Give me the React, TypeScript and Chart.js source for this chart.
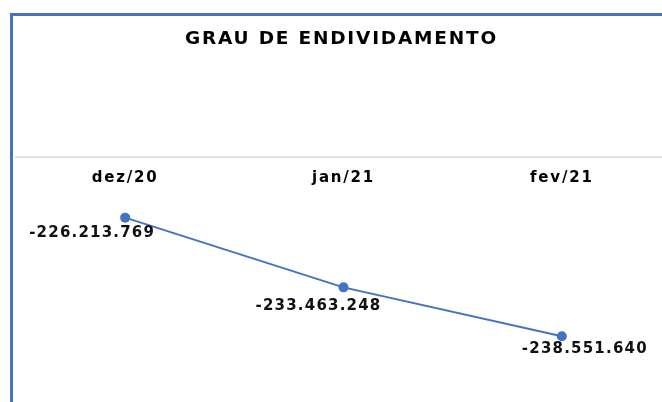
import { useEffect, useRef } from 'react';
import { Chart, registerables } from 'chart.js';

Chart.register(...registerables);

const chartTitle = 'GRAU DE ENDIVIDAMENTO';
const categories = ['dez/20', 'jan/21', 'fev/21'];
const values = [-226213769, -233463248, -238551640];
const yMin = -244340000;
const yMax = -224090000;
const labelNudges = [
  [-33, 15],
  [-25, 19],
  [23, 13],
];

const FONT = '"DejaVu Sans", "Noto Sans", sans-serif';
const BLUE = '#4472C4';

function fmt(v: number): string {
  const s = Math.abs(Math.round(v))
    .toString()
    .replace(/\B(?=(\d{3})+(?!\d))/g, '.');
  return (v < 0 ? '-' : '') + s;
}

const spacingPlugin = {
  id: 'textSpacing',
  beforeDraw(chart: any) {
    chart.ctx.letterSpacing = '1.8px';
  },
  beforeDatasetsDraw(chart: any) {
    chart.ctx.letterSpacing = '0px';
  },
};

const rulePlugin = {
  id: 'topRule',
  beforeDatasetsDraw(chart: any) {
    const { ctx, chartArea } = chart;
    const y = chartArea.top - 40;
    ctx.save();
    ctx.strokeStyle = '#d9d9d9';
    ctx.lineWidth = 1.5;
    ctx.beginPath();
    ctx.moveTo(4, y);
    ctx.lineTo(chart.width, y);
    ctx.stroke();
    ctx.restore();
  },
};

const valueLabelPlugin = {
  id: 'valueLabels',
  afterDatasetsDraw(chart: any) {
    const { ctx } = chart;
    const meta = chart.getDatasetMeta(0);
    ctx.save();
    ctx.font = `bold 15px ${FONT}`;
    ctx.letterSpacing = '1.2px';
    ctx.fillStyle = '#111';
    ctx.textAlign = 'center';
    ctx.textBaseline = 'middle';
    meta.data.forEach((pt: any, i: number) => {
      const [dx, dy] = labelNudges[i];
      ctx.fillText(fmt(values[i]), pt.x + dx, pt.y + dy);
    });
    ctx.restore();
  },
};

export default function App() {
  const canvasRef = useRef<HTMLCanvasElement | null>(null);

  useEffect(() => {
    if (!canvasRef.current) return;
    const chart = new Chart(canvasRef.current, {
      type: 'line',
      data: {
        labels: categories,
        datasets: [
          {
            label: chartTitle,
            data: values,
            borderColor: BLUE,
            backgroundColor: BLUE,
            borderWidth: 2,
            pointRadius: 5,
            pointBorderWidth: 0,
            pointBackgroundColor: BLUE,
            tension: 0,
            fill: false,
          },
        ],
      },
      options: {
        animation: false,
        responsive: true,
        maintainAspectRatio: false,
        layout: { padding: { left: 1, right: 20, top: 0, bottom: 10 } },
        plugins: {
          legend: { display: false },
          tooltip: { enabled: false },
          title: {
            display: true,
            text: chartTitle,
            color: '#000',
            font: { family: FONT, size: 18.5, weight: 'bold' },
            padding: { top: 12, bottom: 109 },
          },
        },
        scales: {
          x: {
            position: 'top',
            offset: true,
            grid: { display: false, drawTicks: false },
            border: { display: false },
            ticks: {
              color: '#000',
              padding: 10,
              font: { family: FONT, size: 15, weight: 'bold' },
            },
          },
          y: {
            display: false,
            min: yMin,
            max: yMax,
          },
        },
      },
      plugins: [spacingPlugin, rulePlugin, valueLabelPlugin],
    });
    return () => chart.destroy();
  }, []);

  return (
    <div
      style={{
        position: 'fixed',
        left: 0,
        top: 0,
        width: 662,
        height: 402,
        overflow: 'hidden',
        background: '#fff',
      }}
    >
      <div
        style={{
          position: 'absolute',
          left: 10,
          top: 13,
          width: 700,
          height: 420,
          borderLeft: `3px solid ${BLUE}`,
          borderTop: `3px solid ${BLUE}`,
          background: '#fff',
        }}
      >
        <div style={{ position: 'absolute', left: -2, top: 0, width: 680, height: 386 }}>
          <canvas ref={canvasRef} />
        </div>
      </div>
    </div>
  );
}
